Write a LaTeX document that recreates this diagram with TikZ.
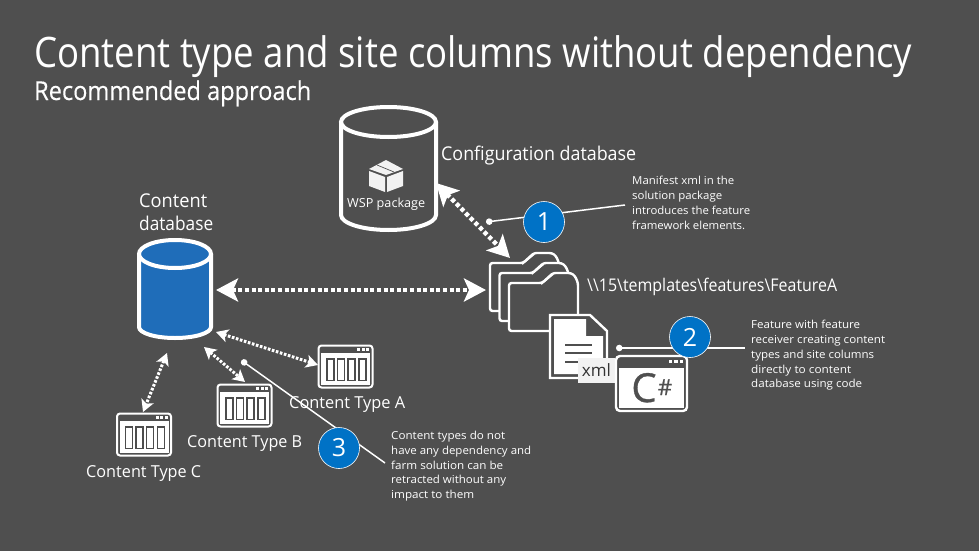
\documentclass[tikz,border=0pt]{standalone}
\usepackage{fontspec}
\usepackage{graphicx}
\setmainfont{Open Sans}
\newfontfamily\heavyf[FakeBold=0.25]{Open Sans}
\newfontfamily\csharpf[FakeBold=0.8]{Open Sans}
\usetikzlibrary{arrows.meta,calc}
\definecolor{bgc}{HTML}{4F4F4F}
\definecolor{dbblue}{HTML}{1F6DB9}
\definecolor{badgeblue}{HTML}{0072C6}
\definecolor{paper}{HTML}{F2F2F2}
\newcommand{\fitw}[2]{\resizebox{#1pt}{\height}{#2}}
\tikzset{
  x=1pt,y=-1pt,
  txt/.style={anchor=base west,inner sep=0,text=white,font=\fontsize{#1}{#1}\selectfont,align=left},
  note/.style={anchor=north west,inner sep=0,text=white,align=left,font=\fontsize{11}{14.8}\selectfont},
  badge/.style={circle,fill=badgeblue,draw=white,line width=.6pt,minimum size=41pt,inner sep=0,text=white,font=\fontsize{25}{25}\selectfont},
  dbl/.style={draw=white,line width=4.4pt,dash pattern=on 4pt off 2.6pt,{Stealth[length=22pt,width=23pt,inset=5pt,fill=white]}-{Stealth[length=22pt,width=23pt,inset=5pt,fill=white]}},
  dbs/.style={draw=white,line width=3pt,dash pattern=on 2.6pt off 1.6pt,{Stealth[length=12pt,width=13pt,inset=3pt,fill=white]}-{Stealth[length=12pt,width=13pt,inset=3pt,fill=white]}},
  lead/.style={draw=white,line width=1.5pt,{Circle[length=6.5pt,fill=white]}-},
  winbox/.style={draw=white,line width=2pt,rounded corners=3pt,fill=bgc,inner sep=0,minimum width=54pt,minimum height=42pt},
}
\newcommand{\appwin}[3]{% name, cx, cy
  \node[winbox] (#1) at (#2,#3) {};
  \fill[white] (#2-24.5,#3-13.5) rectangle (#2+24.5,#3+18.5);
  \foreach \i in {0,1,2,3}{
    \fill[black!70] (#2-19.5+\i*10.7,#3-8.5) rectangle (#2-11+\i*10.7,#3+14.5);
    \fill[white] (#2-18+\i*10.7,#3-7) rectangle (#2-12.5+\i*10.7,#3+13);
  }
  \foreach \i in {0,1,2}{\fill[white] (#2+11.5+\i*4.5,#3-18.5) rectangle (#2+14.5+\i*4.5,#3-16);}
}
\newcommand{\folderic}[2]{% x,y top-left of body
  \draw[white,line width=2.4pt,fill=bgc,rounded corners=2.5pt]
    (#1,#2+48) -- (#1,#2) -- (#1+33,#2) -- (#1+44,#2-10) -- (#1+62,#2-10) -- (#1+66,#2-7) -- (#1+69,#2) -- (#1+69,#2+48) -- cycle;
  \draw[white,line width=2pt] (#1+32,#2+1) -- (#1+44,#2-9);
}
\begin{document}
\begin{tikzpicture}
\useasboundingbox (0,0) rectangle (979,551);
\fill[bgc] (0,0) rectangle (979,551);

% Title
\node[txt=42] (title) at (34,67) {\fitw{878}{Content type and site columns without dependency}};
\node[txt=26] (sub) at (34,100) {\fitw{277}{\heavyf Recommended approach}};

% Configuration database
\draw[white,line width=4pt] (341,122) -- (341,215) arc[start angle=180,end angle=0,x radius=47.5,y radius=15] -- (436,122);
\draw[white,line width=4pt] (388.5,122) ellipse[x radius=47.5,y radius=15];
\node[txt=19] (cfg) at (441,160) {\fitw{195}{Configuration database}};
% package icon
\fill[paper] (386,175) -- (369,169) -- (386,160) -- (403,169) -- cycle;
\fill[paper] (369,171) -- (385,177) -- (385,192) -- (369,186) -- cycle;
\fill[paper] (403,171) -- (387,177) -- (387,192) -- (403,186) -- cycle;
\draw[bgc,line width=.7pt] (377,165) -- (394,172);
\node[txt=12.5] (wsp) at (347,207) {\fitw{78}{WSP package}};

% Content database
\node[txt=19] (cdbl) at (139,230) {\fitw{68}{Content}\\[4pt]\fitw{74}{database}};
\filldraw[fill=dbblue,draw=white,line width=4pt] (139,254) -- (139,327) arc[start angle=180,end angle=0,x radius=36,y radius=11] -- (211,254);
\draw[white,line width=4pt,fill=dbblue] (175,254) ellipse[x radius=36,y radius=14];

% Folders
\folderic{490}{263}
\folderic{499.5}{273}
\folderic{509}{283}
\node[txt=17.5] (path) at (587,291) {\fitw{250}{\textbackslash\textbackslash 15\textbackslash templates\textbackslash features\textbackslash FeatureA}};

% Document
\draw[white,line width=2.4pt,fill=bgc] (550,315) -- (590,315) -- (607,331) -- (607,378) -- (550,378) -- cycle;
\fill[white] (554,319) -- (586,319) -- (586,336) -- (603,336) -- (603,374) -- (554,374) -- cycle;
\draw[bgc,line width=1.6pt] (565,345) -- (592,345) (565,353) -- (592,353) (565,362) -- (592,362);
\node[fill=paper,text=black!80,inner sep=0,minimum width=37pt,minimum height=25pt,font=\fontsize{17}{17}\selectfont] (xml) at (596.5,370.5) {xml};

% C# window
\node[draw=white,line width=2.4pt,rounded corners=4pt,fill=bgc,minimum width=71pt,minimum height=55pt,inner sep=0] (cs) at (651.5,383.5) {};
\fill[white] (619,367.5) rectangle (684,408);
\foreach \i in {0,1,2}{\fill[white] (668.5+\i*5.5,359.5) rectangle (672+\i*5.5,362.5);}
\node[text=bgc,inner sep=0,anchor=base,font=\fontsize{40}{40}\selectfont\csharpf] (csl) at (644,402) {C};
\node[text=bgc,inner sep=0,anchor=base,font=\fontsize{22}{22}\selectfont\csharpf] (csh) at (665,395) {\#};

% App windows
\appwin{ta}{345.5}{366.5}
\appwin{tb}{244.5}{405.5}
\appwin{tc}{144}{434.5}
\node[txt=16.5] (tal) at (289,408) {\fitw{116}{Content Type A}};
\node[txt=16.5] (tbl) at (187,447) {\fitw{115}{Content Type B}};
\node[txt=16.5] (tcl) at (86,477) {\fitw{115}{Content Type C}};

% Arrow end points
\coordinate (a1) at (436,183);
\coordinate (a2) at (510,258);
\coordinate (b1) at (216,290);
\coordinate (b2) at (486,290);
\coordinate (c1) at (216,332);
\coordinate (d1) at (204,347);
\coordinate (e1) at (167,353);
\coordinate (c2) at (318,365);
\coordinate (d2) at (245,382);
\coordinate (e2) at (143,412);
\draw[dbl] (a1) -- (a2);
\draw[dbl] (b1) -- (b2);
\draw[dbs] (c1) -- (c2);
\draw[dbs] (d1) -- (d2);
\draw[dbs] (e1) -- (e2);

% Leaders and badges
\coordinate (l1a) at (486,222);
\coordinate (l1b) at (625,205);
\coordinate (l2a) at (616,348);
\coordinate (l2b) at (745,348);
\coordinate (l3a) at (241.5,360.5);
\coordinate (l3b) at (385,463);
\draw[lead] (l1a) -- (l1b);
\draw[lead] (l2a) -- (l2b);
\draw[lead] (l3a) -- (l3b);
\node[badge] (n1) at (544,222) {1};
\node[badge] (n2) at (690,337) {2};
\node[badge] (n3) at (339,448) {3};

% Notes
\node[note] (nt1) at (632,176) {\fitw{102}{Manifest xml in the}\\\fitw{90}{solution package}\\\fitw{118}{introduces the feature}\\\fitw{113}{framework elements.}};
\node[note] (nt2) at (751,320) {\fitw{109}{Feature with feature}\\\fitw{134}{receiver creating content}\\\fitw{123}{types and site columns}\\\fitw{100}{directly to content}\\\fitw{111}{database using code}};
\node[note] (nt3) at (391,431) {\fitw{114}{Content types do not}\\\fitw{140}{have any dependency and}\\\fitw{112}{farm solution can be}\\\fitw{115}{retracted without any}\\\fitw{83}{impact to them}};
\end{tikzpicture}
\end{document}
